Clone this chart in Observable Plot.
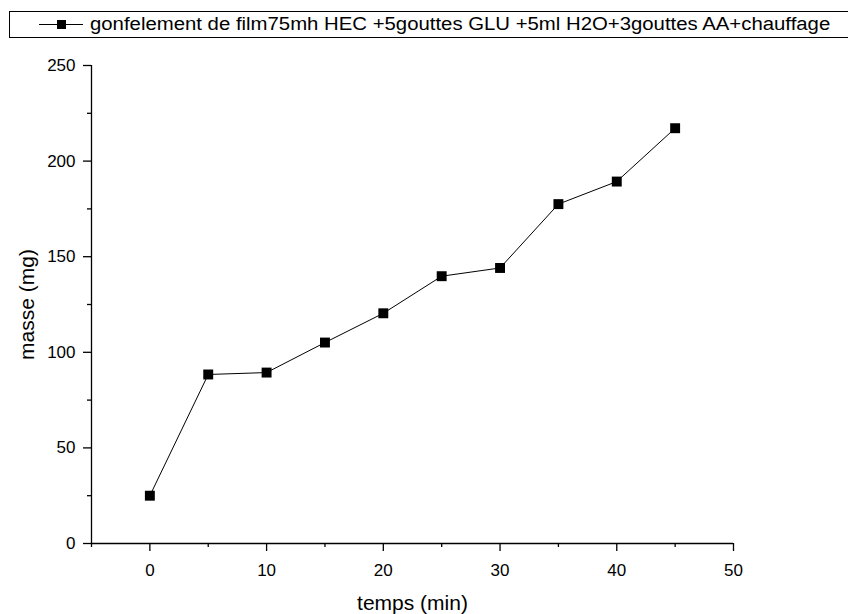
<!DOCTYPE html>
<html>
<head>
<meta charset="utf-8">
<script src="https://cdn.jsdelivr.net/npm/d3@7"></script>
<script src="https://cdn.jsdelivr.net/npm/@observablehq/plot@0.6"></script>
<style>
  html, body { margin: 0; padding: 0; background: #fff; overflow: hidden; }
  body { width: 848px; height: 614px; font-family: "Liberation Sans", Arial, sans-serif; }
  #legend { position: relative; height: 47px; width: 848px; overflow: hidden; }
  #legend .box { position: absolute; left: 9px; top: 11px; width: 860px; height: 27px; border: 1px solid #000; box-sizing: border-box; }
  #legend .line { position: absolute; left: 39px; top: 24px; width: 44px; height: 1px; background: #000; }
  #legend .sq { position: absolute; left: 57px; top: 20px; width: 9px; height: 9px; background: #000; }
  #legend .txt { position: absolute; left: 90px; top: 13px; font-size: 18px; line-height: 22px; color: #000; white-space: nowrap; transform: scaleX(1.13); transform-origin: 0 50%; }
</style>
</head>
<body>
<div id="legend">
  <div class="box"></div>
  <div class="line"></div>
  <div class="sq"></div>
  <div class="txt" id="legtxt"></div>
</div>
<div id="chart"></div>
<script>
const seriesName = "gonfelement de film75mh HEC +5gouttes GLU +5ml H2O+3gouttes AA+chauffage";
const temps = [0, 5, 10, 15, 20, 25, 30, 35, 40, 45];
const masse = [25, 88.4, 89.4, 105.1, 120.4, 139.8, 144.1, 177.5, 189.3, 217.2];
const xMajorTicks = [0, 10, 20, 30, 40, 50];
const xMinorTicks = [-5, 5, 15, 25, 35, 45];
const yMajorTicks = [0, 50, 100, 150, 200, 250];
const yMinorTicks = [25, 75, 125, 175, 225];
const xLabel = "temps (min)";
const yLabel = "masse (mg)";

document.getElementById("legtxt").textContent = seriesName;

const data = temps.map((t, i) => ({t, m: masse[i]}));
const font = "'Liberation Sans', Arial, sans-serif";

const chart = Plot.plot({
  width: 848,
  height: 567,
  marginLeft: 91,
  marginRight: 115,
  marginTop: 18,
  marginBottom: 71,
  style: {fontFamily: font, fontSize: "17px", color: "#000", background: "#fff"},
  x: {domain: [-5, 50]},
  y: {domain: [0, 250]},
  marks: [
    Plot.axisX(xMajorTicks, {tickSize: 8, tickPadding: 12, label: null, fontSize: 17, strokeWidth: 1.3}),
    Plot.axisX(xMinorTicks, {tickSize: 4, tickFormat: () => "", label: null, strokeWidth: 1.3}),
    Plot.axisY(yMajorTicks, {tickSize: 8, tickPadding: 8, label: null, fontSize: 17, strokeWidth: 1.3}),
    Plot.axisY(yMinorTicks, {tickSize: 4, tickFormat: () => "", label: null, strokeWidth: 1.3}),
    Plot.ruleY([0], {stroke: "#000", strokeWidth: 1.3}),
    Plot.ruleX([-5], {stroke: "#000", strokeWidth: 1.3}),
    Plot.line(data, {x: "t", y: "m", stroke: "#000", strokeWidth: 1}),
    Plot.dot(data, {x: "t", y: "m", symbol: "square", r: 5.6, fill: "#000", stroke: "none"}),
    Plot.text([xLabel], {frameAnchor: "bottom", dy: 60, fontSize: 21, textAnchor: "middle", lineAnchor: "middle", fill: "#000"}),
    Plot.text([yLabel], {frameAnchor: "left", dx: -64, rotate: -90, fontSize: 21, textAnchor: "middle", lineAnchor: "middle", fill: "#000"})
  ]
});
chart.style.overflow = "visible";
document.getElementById("chart").appendChild(chart);
</script>
</body>
</html>
